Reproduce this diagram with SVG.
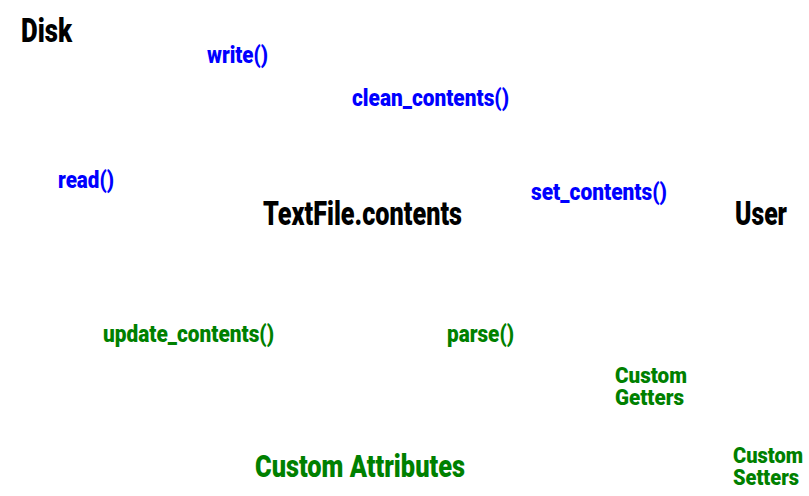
<svg xmlns="http://www.w3.org/2000/svg" width="809" height="496" viewBox="0 0 809 496">
<style>
text{font-family:Roboto,"Liberation Sans",sans-serif;font-weight:900;}
.big{font-size:33px;fill:#000;}
.blue{font-size:24px;fill:#0000ff;}
.green{font-size:24px;fill:#008000;}
.green2{font-size:22px;fill:#008000;}
.greenbig{font-size:32px;fill:#008000;}
</style>
<rect width="809" height="496" fill="#fff"/>
<g id="connectors"></g>
<g id="disk"><text class="big" x="21" y="42" textLength="51" lengthAdjust="spacingAndGlyphs">Disk</text></g>
<g id="textfile-contents"><text class="big" x="263" y="225" textLength="199" lengthAdjust="spacingAndGlyphs">TextFile.contents</text></g>
<g id="user"><text class="big" x="735" y="225" textLength="52" lengthAdjust="spacingAndGlyphs">User</text></g>
<g id="custom-attributes"><text class="greenbig" x="255" y="477" textLength="210" lengthAdjust="spacingAndGlyphs">Custom Attributes</text></g>
<g id="write"><text class="blue" x="207" y="63" textLength="61" lengthAdjust="spacingAndGlyphs">write()</text></g>
<g id="clean-contents"><text class="blue" x="352" y="106" textLength="157" lengthAdjust="spacingAndGlyphs">clean_contents()</text></g>
<g id="read"><text class="blue" x="58" y="188" textLength="56" lengthAdjust="spacingAndGlyphs">read()</text></g>
<g id="set-contents"><text class="blue" x="531" y="200" textLength="136" lengthAdjust="spacingAndGlyphs">set_contents()</text></g>
<g id="update-contents"><text class="green" x="103" y="342" textLength="171" lengthAdjust="spacingAndGlyphs">update_contents()</text></g>
<g id="parse"><text class="green" x="447" y="342" textLength="67" lengthAdjust="spacingAndGlyphs">parse()</text></g>
<g id="custom-getters"><text class="green2" x="615" y="383" textLength="72" lengthAdjust="spacingAndGlyphs">Custom</text><text class="green2" x="615" y="405" textLength="69" lengthAdjust="spacingAndGlyphs">Getters</text></g>
<g id="custom-setters"><text class="green2" x="733" y="463" textLength="70" lengthAdjust="spacingAndGlyphs">Custom</text><text class="green2" x="733" y="485" textLength="66" lengthAdjust="spacingAndGlyphs">Setters</text></g>
</svg>
